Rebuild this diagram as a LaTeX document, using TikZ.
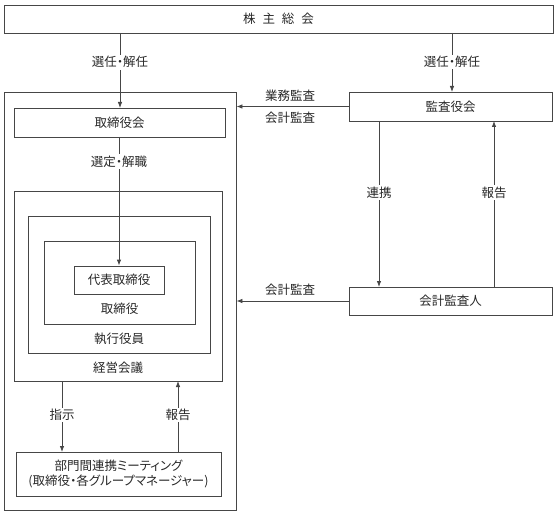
\documentclass[tikz,border=0pt]{standalone}
\usepackage{fontspec}
\setmainfont[RawFeature=+palt]{Noto Sans CJK JP}
\usetikzlibrary{arrows.meta}
\definecolor{linec}{RGB}{70,70,70}
\definecolor{textc}{RGB}{40,40,40}
\begin{document}
\begin{tikzpicture}[x=1pt,y=-1pt,
  box/.style={draw=linec, line width=0.8pt, inner sep=0pt, text=textc, font=\fontsize{12.5}{15}\selectfont},
  lab/.style={fill=white, inner sep=1.5pt, text=textc, font=\fontsize{12.5}{15}\selectfont},
  txt/.style={inner sep=0pt, text=textc, font=\fontsize{12.5}{15}\selectfont},
  arr/.style={draw=linec, line width=0.8pt, -{Latex[length=6pt,width=4.5pt]}},
  ln/.style={draw=linec, line width=0.8pt}]
\useasboundingbox (0,0) rectangle (560,516);
\fill[white] (0,0) rectangle (560,516);
% boxes
\node[box, minimum width=549pt, minimum height=28pt] (gm) at (278.5,19) {株\hspace{0.55em}主\hspace{0.55em}総\hspace{0.55em}会};
\node[box, minimum width=232pt, minimum height=418pt] (bd) at (120,301) {};
\node[box, minimum width=211pt, minimum height=29pt] (tb) at (119.5,122.5) {取締役会};
\node[box, minimum width=203pt, minimum height=29pt] (kansa) at (450.5,106.5) {監査役会};
\node[box, minimum width=203pt, minimum height=28pt] (kaikei) at (450.5,301) {会計監査人};
\node[box, minimum width=208pt, minimum height=190pt] (keiei) at (118,286) {};
\node[box, minimum width=182pt, minimum height=137pt] (shikko) at (119,284.5) {};
\node[box, minimum width=151pt, minimum height=83pt] (tori) at (119.5,282.5) {};
\node[box, minimum width=90pt, minimum height=28pt] (daihyo) at (119,280) {代表取締役};
\node[box, minimum width=205pt, minimum height=44pt, align=center, font=\fontsize{12.5}{15}\selectfont] (bumon) at (118.5,474) {部門間連携ミーティング\\(取締役・各グループマネージャー)};
\node[txt] (toriL) at (119.5,309) {取締役};
\node[txt] (shikkoL) at (119,339) {執行役員};
\node[txt] (keieiL) at (118,368) {経営会議};
% connectors
\coordinate (a1s) at (120,33);
\coordinate (a1e) at (120,108);
\draw[arr] (a1s) -- node[lab, pos=0.39] {選任・解任} (a1e);
\coordinate (a2s) at (452,33);
\coordinate (a2e) at (452,92);
\draw[arr] (a2s) -- node[lab, pos=0.49] {選任・解任} (a2e);
\coordinate (k1e) at (bd.east |- kansa.west);
\draw[arr] (kansa.west) -- (k1e);
\node[txt] (gyomu) at (290,96) {業務監査};
\node[txt] (kaikeiA) at (290,118) {会計監査};
\coordinate (s1s) at (119,137);
\draw[arr] (s1s) -- node[lab, pos=0.19] {選定・解職} (daihyo.north);
\coordinate (r1s) at (379,121);
\coordinate (r1e) at (379,287);
\draw[arr] (r1s) -- node[lab, pos=0.43] {連携} (r1e);
\coordinate (h1s) at (494,287);
\coordinate (h1e) at (494,121);
\draw[arr] (h1s) -- node[lab, pos=0.57] {報告} (h1e);
\coordinate (k2e) at (bd.east |- kaikei.west);
\draw[arr] (kaikei.west) -- (k2e);
\node[txt] (kaikeiB) at (290,290) {会計監査};
\coordinate (i1s) at (62,381);
\coordinate (i1e) at (62,452);
\draw[arr] (i1s) -- node[lab, pos=0.48] {指示} (i1e);
\coordinate (h2s) at (178,452);
\coordinate (h2e) at (178,381);
\draw[arr] (h2s) -- node[lab, pos=0.52] {報告} (h2e);
\end{tikzpicture}
\end{document}
